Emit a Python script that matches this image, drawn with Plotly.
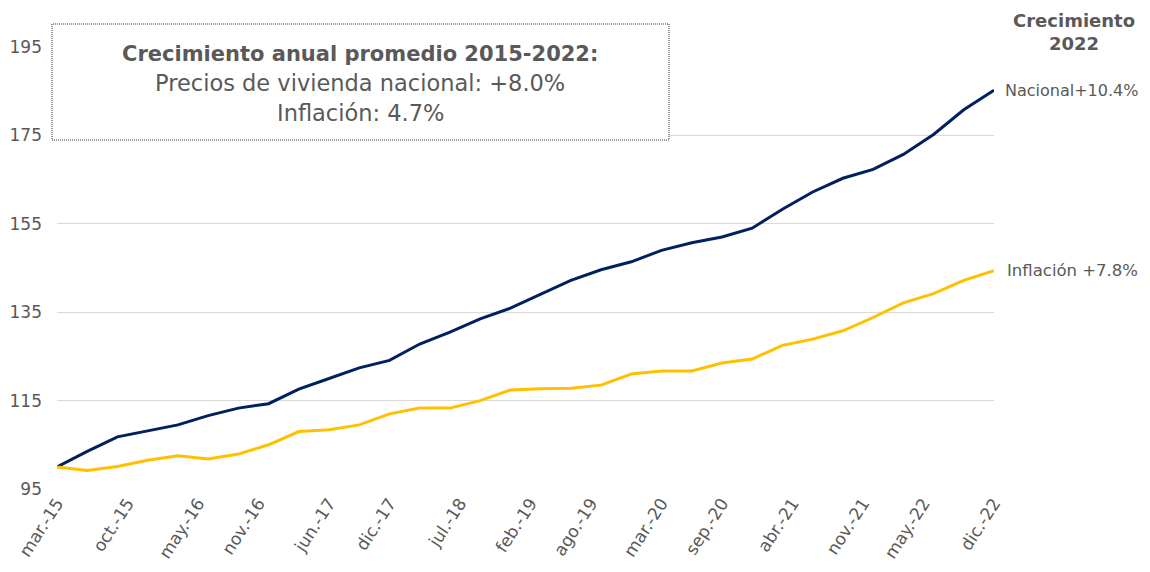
import plotly.graph_objects as go

# Quarterly observations, mar-15 .. dic-22 (months since mar-15)
months = list(range(0, 94, 3))
nacional = [100.0, 103.5, 106.8, 108.2, 109.5, 111.6, 113.3, 114.3, 117.6, 120.0,
            122.4, 124.1, 127.8, 130.5, 133.5, 135.9, 139.1, 142.2, 144.6, 146.4,
            149.0, 150.7, 152.0, 154.0, 158.3, 162.2, 165.3, 167.3, 170.7, 175.2,
            180.8, 185.2]
inflacion = [100.0, 99.2, 100.1, 101.5, 102.5, 101.8, 102.9, 105.0, 108.0, 108.4,
             109.5, 112.0, 113.3, 113.3, 115.0, 117.4, 117.7, 117.8, 118.5, 121.0,
             121.7, 121.7, 123.5, 124.4, 127.5, 128.9, 130.8, 133.8, 137.1, 139.2,
             142.2, 144.4]

tick_months = [0, 7, 14, 20, 27, 33, 40, 47, 53, 60, 66, 73, 80, 86, 93]
tick_labels = ["mar.-15", "oct.-15", "may.-16", "nov.-16", "jun.-17", "dic.-17",
               "jul.-18", "feb.-19", "ago.-19", "mar.-20", "sep.-20", "abr.-21",
               "nov.-21", "may.-22", "dic.-22"]
y_ticks = [95, 115, 135, 155, 175, 195]

NAVY = "#002060"
GOLD = "#FFC000"
GREY = "#595959"
FONT = "DejaVu Sans"

# plot area (figure pixels): left 49, top 39, width 937, height 442
W, H = 1142, 564
L, T, PW, PH = 49, 39, 937, 442


def px(xpix):
    return (xpix - 8 - L) / PW


def py(ypix):
    return (T + PH - (ypix - 8)) / PH


fig = go.Figure()
fig.add_trace(go.Scatter(x=months, y=nacional, mode="lines", name="Nacional",
                         line=dict(color=NAVY, width=3)))
fig.add_trace(go.Scatter(x=months, y=inflacion, mode="lines", name="Inflación",
                         line=dict(color=GOLD, width=3)))

fig.update_layout(
    width=W, height=H,
    margin=dict(l=L, r=W - L - PW, t=T, b=H - T - PH, autoexpand=False),
    paper_bgcolor="white", plot_bgcolor="white",
    showlegend=False,
    font=dict(family=FONT, color=GREY, size=16),
)
fig.update_xaxes(range=[0, 93], tickmode="array", tickvals=tick_months,
                 ticktext=tick_labels, tickangle=-57, showgrid=False,
                 zeroline=False, showline=False, ticks="",
                 tickfont=dict(size=17, color=GREY, family=FONT))
fig.update_yaxes(range=[95, 195], tickmode="array", tickvals=y_ticks,
                 showgrid=True, gridcolor="#D9D9D9", gridwidth=1,
                 zeroline=False, showline=False, ticks="",
                 ticklabelstandoff=14,
                 tickfont=dict(size=17, color=GREY, family=FONT))

# Boxed summary
fig.add_shape(type="rect", xref="paper", yref="paper",
              x0=px(52), x1=px(669), y0=py(140), y1=py(24),
              line=dict(color="#333333", width=1, dash="1px,1px"),
              fillcolor="white", layer="above")
fig.add_annotation(xref="paper", yref="paper", x=px(360), y=py(54),
                   text="<b>Crecimiento anual promedio 2015-2022:</b>",
                   showarrow=False, xanchor="center", yanchor="middle",
                   font=dict(size=21, color=GREY, family=FONT))
fig.add_annotation(xref="paper", yref="paper", x=px(360), y=py(83),
                   text="Precios de vivienda nacional: +8.0%",
                   showarrow=False, xanchor="center", yanchor="middle",
                   font=dict(size=22.5, color=GREY, family=FONT))
fig.add_annotation(xref="paper", yref="paper", x=px(360), y=py(113),
                   text="Inflación: 4.7%",
                   showarrow=False, xanchor="center", yanchor="middle",
                   font=dict(size=22.5, color=GREY, family=FONT))

# Right-hand labels
fig.add_annotation(xref="paper", yref="paper", x=px(1074), y=py(21),
                   text="<b>Crecimiento</b>", showarrow=False,
                   xanchor="center", yanchor="middle",
                   font=dict(size=18, color=GREY, family=FONT))
fig.add_annotation(xref="paper", yref="paper", x=px(1074), y=py(43),
                   text="<b>2022</b>", showarrow=False,
                   xanchor="center", yanchor="middle",
                   font=dict(size=18, color=GREY, family=FONT))
fig.add_annotation(x=months[-1], y=nacional[-1], text="Nacional+10.4%",
                   showarrow=False, xanchor="left", yanchor="middle", xshift=9,
                   font=dict(size=16, color=GREY, family=FONT))
fig.add_annotation(x=months[-1], y=inflacion[-1], text="Inflación +7.8%",
                   showarrow=False, xanchor="left", yanchor="middle", xshift=11,
                   font=dict(size=16.5, color=GREY, family=FONT))

fig.write_html("out.html")
